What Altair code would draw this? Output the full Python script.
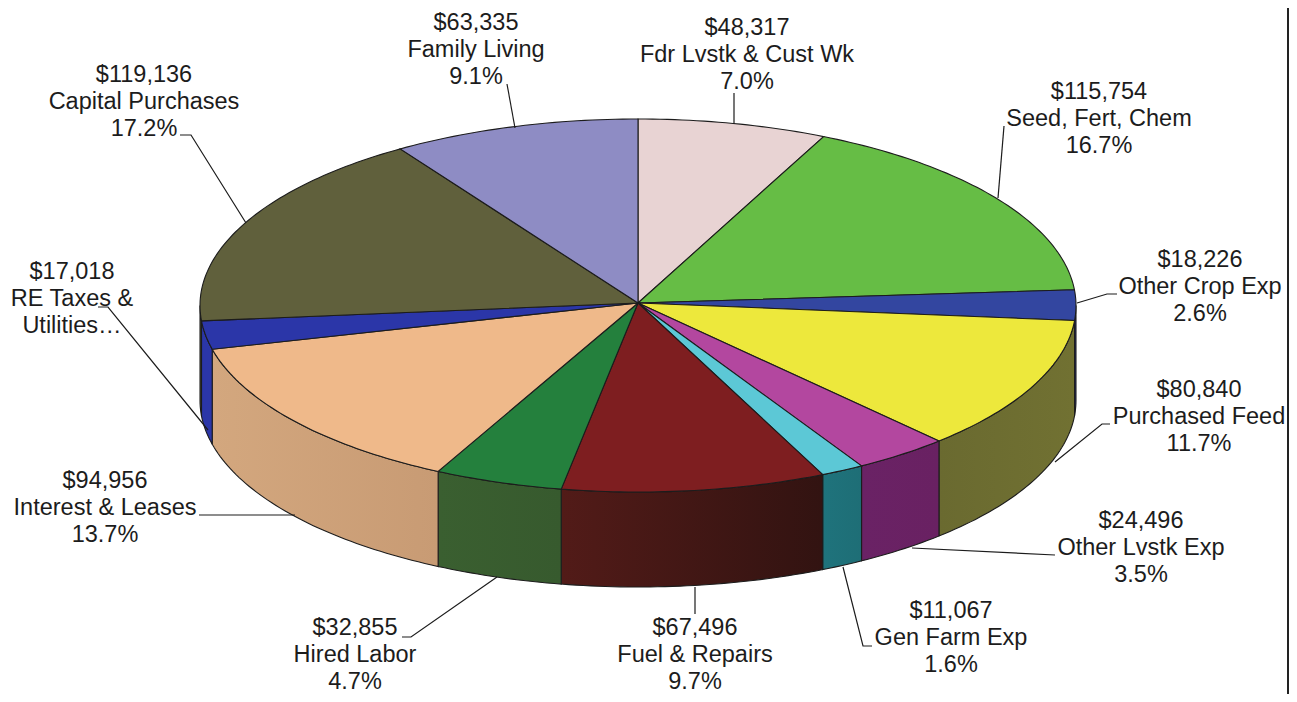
import math
import altair as alt

# ---- data ----
names = ["Fdr Lvstk & Cust Wk", "Seed, Fert, Chem", "Other Crop Exp", "Purchased Feed",
         "Other Lvstk Exp", "Gen Farm Exp", "Fuel & Repairs", "Hired Labor",
         "Interest & Leases", "RE Taxes &|Utilities…", "Capital Purchases", "Family Living"]
values = [48317, 115754, 18226, 80840, 24496, 11067, 67496, 32855, 94956, 17018, 119136, 63335]
percents = ["7.0%", "16.7%", "2.6%", "11.7%", "3.5%", "1.6%", "9.7%", "4.7%", "13.7%", None, "17.2%", "9.1%"]

top_colors = ["#E8D3D3", "#66BD45", "#3346A0", "#EDE83C", "#B3479F", "#5CC8D6",
              "#7E1E20", "#24803D", "#EFB98A", "#2B36A8", "#60603C", "#8E8CC4"]
wall_left = ["#E8D3D3", "#66BD45", "#2B3A90", "#6A6A30", "#6A2265", "#1F737C",
             "#521B18", "#3A5F30", "#D3A77E", "#2B36A8", "#4A4A2E", "#8E8CC4"]
wall_right = ["#E8D3D3", "#66BD45", "#2B3A90", "#717132", "#692162", "#1E6E76",
              "#321311", "#375A2E", "#C89B74", "#2B36A8", "#4A4A2E", "#8E8CC4"]

# label anchors: centre x, and the baseline y of the first line
label_x = [747, 1099, 1200, 1199, 1141, 951, 695, 355, 105, 72, 144, 476]
label_y = [35, 99, 267, 397, 528, 618, 635, 635, 488, 279, 82, 30]
leaders = [
    [(734, 93), (734, 124)],
    [(1004, 126), (998, 198)],
    [(1117, 294), (1107, 294), (1077, 303)],
    [(1110, 424), (1102, 424), (1055, 462)],
    [(1055, 555), (912, 548)],
    [(872, 646), (863, 646), (843, 567)],
    [(695, 614), (695, 587)],
    [(402, 637), (411, 637), (497, 577)],
    [(199, 515), (295, 515)],
    [(98, 307), (108, 307), (208, 430)],
    [(180, 135), (191, 135), (246, 223)],
    [(507, 84), (515, 128)],
]
frame_line = [(1288, 0), (1288, 702)]

# ---- pie geometry (picture pixels) ----
W, H = 1281, 686
OFF = 8
CX, CY, RX, RY = 638, 305.5, 438, 186.5
APEX = (638, 303)
DEPTH = 95
LINE_PITCH = 27
FONT = "Liberation Sans"
FONT_SIZE = 23.5
INK = "#1c1c1c"

proj = dict(type="identity", scale=1, translate=[0, 0])


def px(p):
    return [p[0] - OFF, p[1] - OFF]


def rim(deg, drop=0):
    a = math.radians(deg)
    return (CX + RX * math.sin(a), CY - RY * math.cos(a) + drop)


def sweep(a, b):
    n = max(2, int(abs(b - a)) + 2)
    return [a + (b - a) * i / (n - 1) for i in range(n)]


def feature(points, closed=True, **props):
    coords = [px(p) for p in points]
    if closed:
        coords.append(coords[0])
        geom = {"type": "Polygon", "coordinates": [coords]}
    else:
        geom = {"type": "LineString", "coordinates": coords}
    return {"type": "Feature", "geometry": geom, "properties": props}


total = sum(values)
edges = [0.0]
for v in values:
    edges.append(edges[-1] + v / total * 360)

layers = []

# side walls: the part of every slice that faces the viewer
for i in range(len(values)):
    a, b = max(edges[i], 90), min(edges[i + 1], 270)
    if b <= a:
        continue
    arc = sweep(a, b)
    pts = [rim(d) for d in arc] + [rim(d, DEPTH) for d in reversed(arc)]
    layers.append(
        alt.Chart(alt.Data(values=[feature(pts)]))
        .mark_geoshape(
            fill=alt.Gradient(
                gradient="linear", x1=0, x2=1, y1=0, y2=0,
                stops=[alt.GradientStop(offset=0, color=wall_left[i]),
                       alt.GradientStop(offset=1, color=wall_right[i])],
            ),
            stroke=INK, strokeWidth=1.1,
        )
        .project(**proj)
    )

# top face
tops = []
for i in range(len(values)):
    pts = [APEX] + [rim(d) for d in sweep(edges[i], edges[i + 1])]
    tops.append(feature(pts, color=top_colors[i], name=names[i]))
layers.append(
    alt.Chart(alt.Data(values=tops))
    .mark_geoshape(stroke=INK, strokeWidth=1.1)
    .encode(fill=alt.Color("properties.color:N", scale=None, legend=None))
    .project(**proj)
)

# leader lines
layers.append(
    alt.Chart(alt.Data(values=[feature(l, closed=False) for l in leaders]))
    .mark_geoshape(filled=False, stroke=INK, strokeWidth=1.2)
    .project(**proj)
)
layers.append(
    alt.Chart(alt.Data(values=[feature(frame_line, closed=False)]))
    .mark_geoshape(filled=False, stroke="#222222", strokeWidth=2)
    .project(**proj)
)

# labels, one row per text line
rows = []
for i, name in enumerate(names):
    lines = [f"${values[i]:,}"] + name.split("|")
    if percents[i]:
        lines.append(percents[i])
    for k, line in enumerate(lines):
        rows.append({"t": line, "x": label_x[i] - OFF,
                     "y": label_y[i] + k * LINE_PITCH - OFF})
layers.append(
    alt.Chart(alt.Data(values=rows))
    .mark_text(font=FONT, fontSize=FONT_SIZE, color=INK, align="center", baseline="alphabetic")
    .encode(longitude="x:Q", latitude="y:Q", text="t:N")
    .project(**proj)
)

chart = (
    alt.layer(*layers)
    .properties(width=W, height=H, padding=0, background="white", autosize="none")
    .configure_view(stroke=None)
)
chart.save("out.html", embed_options={"renderer": "svg", "actions": False})
